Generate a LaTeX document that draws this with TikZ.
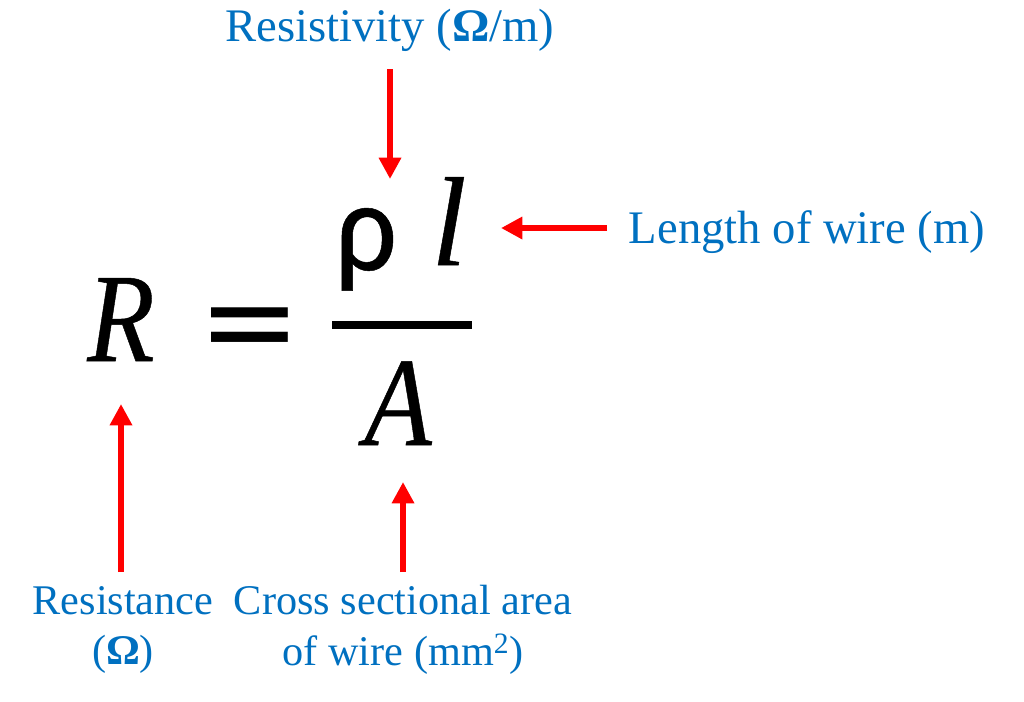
\documentclass[tikz,border=0pt]{standalone}
\usepackage{fontspec}
\setmainfont{Liberation Serif}
\newfontfamily\symfont[FakeBold=0.4]{Carlito}
\newfontfamily\eqfont[FakeBold=0.4]{Liberation Serif}
\newfontfamily\eqsfont{DejaVu Sans}
\usetikzlibrary{arrows.meta}
\definecolor{lblblue}{RGB}{0,112,192}
\tikzset{lblnode/.style={text=lblblue,font=\fontsize{35}{38}\selectfont,align=center,inner sep=0pt},
  smallnode/.style={lblnode,font=\fontsize{31.7}{38}\selectfont},
  eqnnode/.style={font=\fontsize{95}{95}\selectfont\eqfont\itshape,inner sep=0pt,anchor=base},
  redarrow/.style={-{Triangle[length=16pt,width=16pt]},red,line width=5pt}}
\begin{document}
\begin{tikzpicture}[x=1pt,y=-1pt,scale=0.75]
  \useasboundingbox (0,0) rectangle (1024,701);

  % labels
  \node [lblnode] (rho)  at (390,30)  {Resistivity (\textbf{Ω}/m)};
  \node [lblnode] (len)  at (807,232) {Length of wire (m)};
  \node [smallnode] (res)  at (123,630) {Resistance\\(\textbf{Ω})};
  \node [smallnode] (area) at (403,630) {Cross sectional area\\of wire (mm\textsuperscript{2})};

  % equation
  \node [eqnnode,xscale=0.87] (r)  at (121,361) {R};
  \node [eqnnode,font=\fontsize{92}{92}\selectfont\eqsfont] (eq) at (250,363) {=};
  \node [eqnnode,font=\fontsize{92}{92}\selectfont\symfont,yscale=1.04] (p)  at (366,270) {ρ};
  \node [eqnnode] (l)  at (449,265) {l};
  \node [eqnnode,xscale=0.87] (a)  at (398,445) {A};
  \coordinate (barl) at (332,325);
  \coordinate (barr) at (472,325);
  \draw [line width=6pt] (barl) -- (barr);

  % arrows
  \coordinate (s1) at (390,69);
  \coordinate (e1) at (390,179);
  \coordinate (s2) at (607,228);
  \coordinate (e2) at (501,228);
  \coordinate (s3) at (121,572);
  \coordinate (e3) at (121,404);
  \coordinate (s4) at (403,572);
  \coordinate (e4) at (403,482);
  \draw [redarrow] (s1) -- (e1);
  \draw [redarrow] (s2) -- (e2);
  \draw [redarrow] (s3) -- (e3);
  \draw [redarrow] (s4) -- (e4);
\end{tikzpicture}
\end{document}
